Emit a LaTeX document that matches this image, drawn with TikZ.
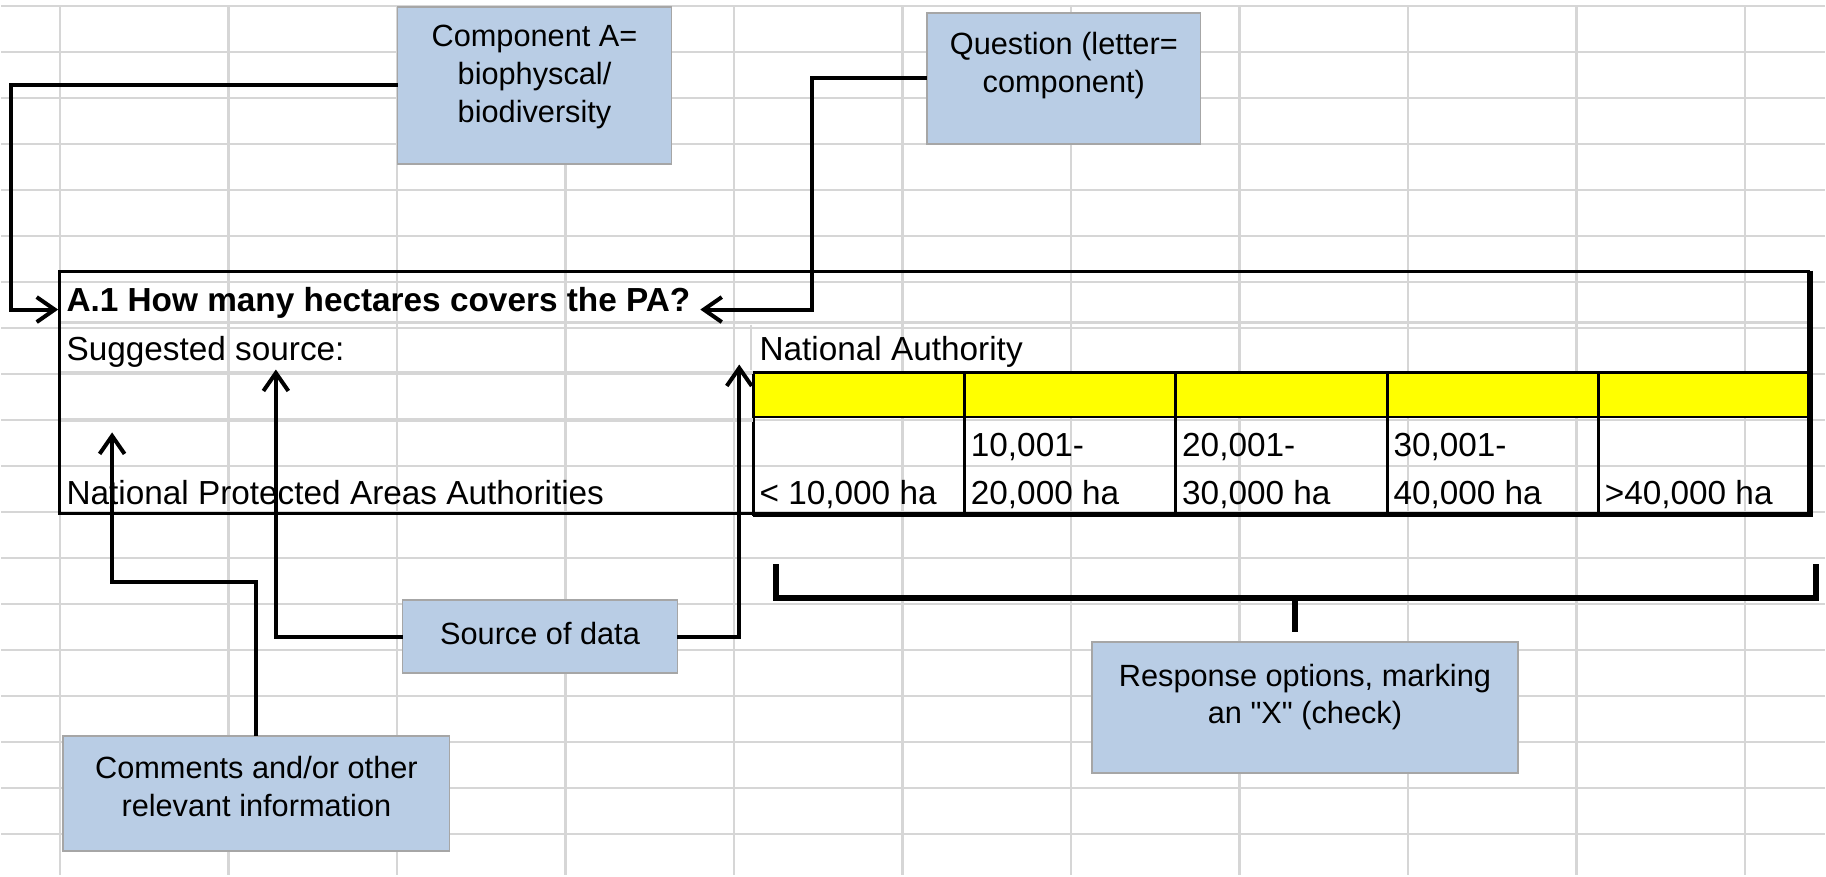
\documentclass[tikz,border=0pt]{standalone}
\usepackage{fontspec}
\setmainfont{Liberation Sans}[Ligatures=TeXOff]
\usepackage{tikz}
\usepackage{xcolor}
\definecolor{gridGray}{HTML}{D6D6D6}
\definecolor{noteBlue}{HTML}{B9CDE5}
\definecolor{noteEdge}{HTML}{A6A6A6}
\definecolor{optYellow}{HTML}{FFFF00}
\usetikzlibrary{arrows.meta}

\tikzset{
  gridline/.style={draw=gridGray, line width=0.05cm},
  tableline/.style={draw=black, line width=0.055cm},
  celltext/.style={inner sep=0pt, anchor=base west, font=\fontsize{19pt}{23pt}\selectfont},
  infobox/.style={fill=noteBlue, draw=noteEdge, line width=0.03cm, inner sep=0pt, outer sep=0pt,
    anchor=base, font=\fontsize{17.5pt}{21.6pt}\selectfont},
  pointer/.style={line width=0.08cm, -{Straight Barb[length=0.36cm,width=0.5cm]}},
  bracketline/.style={line width=0.12cm},
}
\newcommand{\twoline}[2]{\begin{tabular}[b]{@{}l@{}}#1\\[4.3pt]#2\end{tabular}}
\newcommand{\notetext}[1]{\begin{tabular}[t]{@{}c@{}}#1\end{tabular}}

\begin{document}
\begin{tikzpicture}
  \filldraw[fill=white, draw=none] (0cm,0cm) rectangle (36.52cm,-17.52cm);
  % sheet grid
  \foreach \r in {0,...,18}
    \draw[gridline] (0cm,{-0.12cm-\r*0.921cm}) -- (36.52cm,{-0.12cm-\r*0.921cm});
  \foreach \c in {0,...,10}
    \draw[gridline] ({1.18cm+\c*3.374cm},-0.12cm) -- ({1.18cm+\c*3.374cm},-17.52cm);

  % response cells
  \foreach \c in {0,...,4} {
    \filldraw[fill=optYellow, tableline] ({15.06cm+\c*4.232cm},-7.46cm) rectangle ({15.06cm+(\c+1)*4.232cm},-8.35cm);
    \draw[tableline] ({15.06cm+\c*4.232cm},-8.35cm) rectangle ({15.06cm+(\c+1)*4.232cm},-10.30cm);
  }
  \draw[gridline] (1.16cm,-6.46cm) -- (36.22cm,-6.46cm);
  \draw[gridline, line width=0.06cm] (1.16cm,-7.46cm) -- (15.06cm,-7.46cm);
  \draw[gridline, line width=0.08cm] (1.16cm,-8.41cm) -- (15.06cm,-8.41cm);
  \draw[gridline] (15.02cm,-6.50cm) -- (15.02cm,-7.40cm);
  % frame
  \draw[tableline] (36.22cm,-5.44cm) -- (1.16cm,-5.44cm) -- (1.16cm,-10.29cm) -- (15.06cm,-10.29cm);
  \draw[line width=0.12cm] (36.22cm,-5.42cm) -- (36.22cm,-10.34cm);
  \draw[line width=0.095cm] (15.06cm,-10.30cm) -- (36.28cm,-10.30cm);

  \node[celltext, font=\fontsize{19pt}{23pt}\selectfont\bfseries] (qtitle) at (1.30cm,-6.24cm) {A.1 How many hectares covers the PA?};
  \node[celltext] (srclabel) at (1.30cm,-7.21cm) {Suggested source:};
  \node[celltext] (srcname) at (15.18cm,-7.21cm) {National Authority};
  \node[celltext] (commcell) at (1.30cm,-10.10cm) {National Protected Areas Authorities};
  \foreach \c/\txt in {0/{< 10,000 ha}, 1/{\twoline{10,001-}{20,000 ha}}, 2/{\twoline{20,001-}{30,000 ha}},
                      3/{\twoline{30,001-}{40,000 ha}}, 4/{>40,000 ha}}
    \node[celltext] (opt\c) at ({15.18cm+\c*4.232cm},-10.10cm) {\txt};

  % notes
  \node[infobox, minimum width=5.48cm, text height=0.80cm, text depth=2.34cm] (compA) at (10.68cm,-0.94cm)
    {\notetext{Component A=\\biophyscal/\\biodiversity}};
  \node[infobox, minimum width=5.48cm, text height=0.84cm, text depth=1.78cm] (question) at (21.28cm,-1.10cm)
    {\notetext{Question (letter=\\component)}};
  \node[infobox, minimum width=5.50cm, text height=0.88cm, text depth=0.58cm] (srcbox) at (10.79cm,-12.90cm)
    {\notetext{Source of data}};
  \node[infobox, minimum width=7.74cm, text height=0.86cm, text depth=1.44cm] (comments) at (5.11cm,-15.60cm)
    {\notetext{Comments and/or other\\relevant information}};
  \node[infobox, minimum width=8.54cm, text height=0.88cm, text depth=1.74cm] (respbox) at (26.11cm,-13.74cm)
    {\notetext{Response options, marking\\an "X" (check)}};

  \coordinate (qleft) at (1.14cm,-6.20cm);
  \coordinate (qright) at (14.00cm,-6.20cm);
  \coordinate (srctip) at (5.50cm,-7.40cm);
  \coordinate (authtip) at (14.78cm,-7.30cm);
  \coordinate (commtip) at (2.22cm,-8.66cm);
  \draw[pointer] (compA.west) -| (0.20cm,-6.20cm) -- (qleft);
  \draw[pointer] (question.west) -| (16.24cm,-6.20cm) -- (qright);
  \draw[pointer] (srcbox.west) -| (srctip);
  \draw[pointer] (srcbox.east) -| (authtip);
  \draw[pointer] (comments.north) |- (2.22cm,-11.66cm) -- (commtip);

  % bracket over the options
  \draw[bracketline] (15.52cm,-11.30cm) |- (36.34cm,-11.97cm) -- (36.34cm,-11.30cm);
  \draw[bracketline] (25.92cm,-11.97cm) -- (25.92cm,-12.66cm);
\end{tikzpicture}
\end{document}
